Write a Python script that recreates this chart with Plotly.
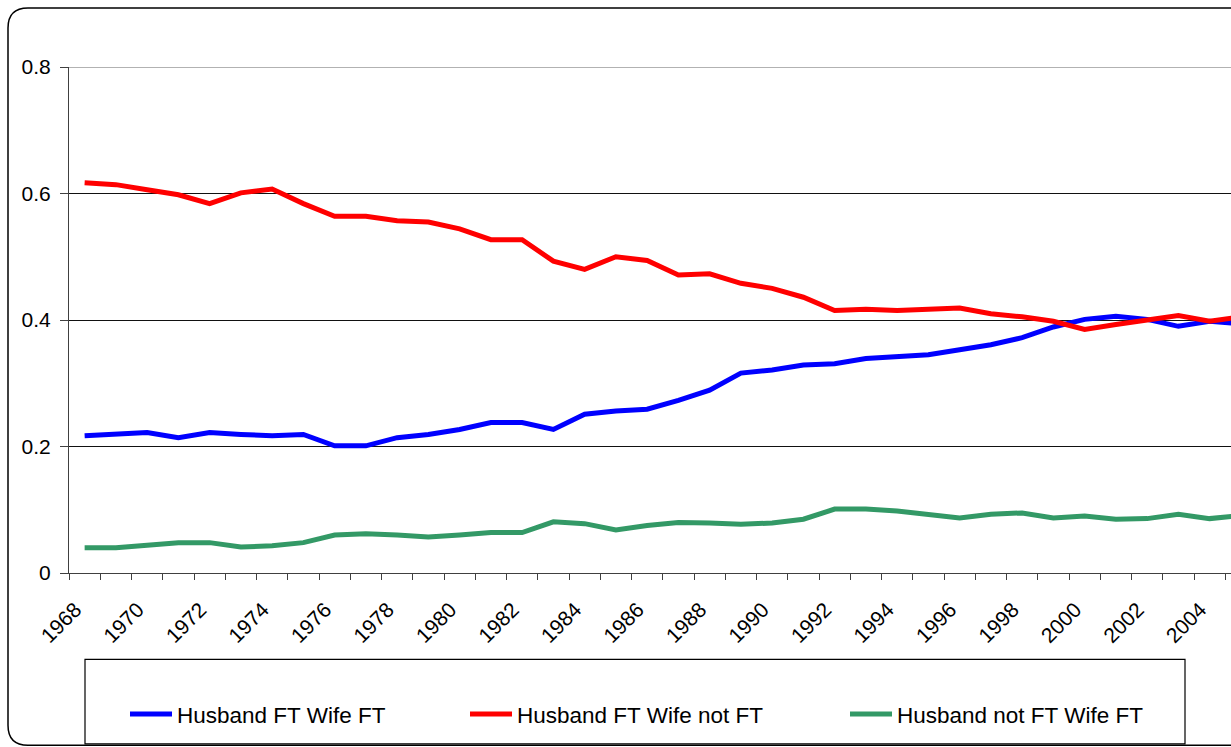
import plotly.graph_objects as go

years = list(range(1968, 2006))
ft_ft = [0.217, 0.219, 0.222, 0.214, 0.222, 0.219, 0.217, 0.219, 0.201, 0.201,
         0.214, 0.219, 0.227, 0.238, 0.238, 0.227, 0.251, 0.256, 0.259, 0.273,
         0.289, 0.316, 0.321, 0.329, 0.331, 0.339, 0.342, 0.345, 0.353, 0.361,
         0.372, 0.389, 0.401, 0.406, 0.401, 0.390, 0.398, 0.394]
ft_notft = [0.617, 0.614, 0.606, 0.598, 0.584, 0.601, 0.607, 0.584, 0.564, 0.564,
            0.557, 0.555, 0.544, 0.527, 0.527, 0.493, 0.480, 0.500, 0.494, 0.471,
            0.473, 0.458, 0.450, 0.436, 0.415, 0.417, 0.415, 0.418, 0.419, 0.410,
            0.405, 0.398, 0.385, 0.393, 0.401, 0.407, 0.398, 0.405]
notft_ft = [0.040, 0.040, 0.044, 0.048, 0.048, 0.041, 0.043, 0.048, 0.060, 0.062,
            0.060, 0.057, 0.060, 0.064, 0.064, 0.081, 0.078, 0.068, 0.075, 0.080,
            0.079, 0.077, 0.079, 0.085, 0.101, 0.101, 0.098, 0.093, 0.087, 0.093,
            0.095, 0.087, 0.090, 0.085, 0.086, 0.093, 0.086, 0.091]
names = ["Husband FT Wife FT", "Husband FT Wife not FT", "Husband not FT Wife FT"]
colors = ["#0000FF", "#FF0000", "#339966"]
tick_years = list(range(1968, 2005, 2))
y_ticks = [0, 0.2, 0.4, 0.6, 0.8]
y_text = ["0", "0.2", "0.4", "0.6", "0.8"]

W, H = 1231, 747
L, T, B = 69, 67, 173.5
plot_w = W - L
plot_h = H - T - B
px_per_year = 31.25
label_shift = 0.3  # rotated labels end slightly left of the category centre


def px(xp):
    return (xp - L) / plot_w


def py(yp):
    return (H - B - yp) / plot_h


FONT = "Liberation Sans, Arial, sans-serif"

fig = go.Figure()
series = [ft_ft, ft_notft, notft_ft]
legends = ["legend", "legend2", "legend3"]
for name, vals, col, lg in zip(names, series, colors, legends):
    fig.add_trace(go.Scatter(x=years, y=vals, mode="lines", name=name,
                             line=dict(color=col, width=5), legend=lg,
                             showlegend=True))

x0 = 1967.5
fig.update_xaxes(
    range=[x0, x0 + plot_w / px_per_year],
    tickmode="array", tickvals=[y - label_shift for y in tick_years],
    ticktext=[str(y) for y in tick_years],
    tickangle=-45, ticks="", showgrid=False, zeroline=False,
    showline=True, linecolor="#404040", linewidth=1,
    tickfont=dict(family=FONT, size=21, color="black"),
    ticklabelstandoff=15,
    minor=dict(tickmode="array", tickvals=[x0 + i for i in range(0, 45)],
               ticks="outside", ticklen=6, tickcolor="#404040", showgrid=False),
)
fig.update_yaxes(
    range=[0, 0.8], tickmode="array", tickvals=y_ticks, ticktext=y_text,
    showgrid=True, gridcolor="#111111", gridwidth=1, zeroline=False,
    showline=True, linecolor="#404040", linewidth=1,
    ticks="outside", ticklen=8, tickcolor="#404040",
    tickfont=dict(family=FONT, size=21, color="black"),
    ticklabelstandoff=5,
)

leg_common = dict(orientation="h", xanchor="left", yanchor="middle",
                  bgcolor="rgba(0,0,0,0)", borderwidth=0, itemwidth=42,
                  font=dict(family=FONT, size=22.5, color="black"))
fig.update_layout(
    width=W, height=H, showlegend=True,
    margin=dict(l=L, r=0, t=T, b=B),
    paper_bgcolor="white", plot_bgcolor="white",
    legend=dict(x=px(125), y=py(715), **leg_common),
    legend2=dict(x=px(465), y=py(715), **leg_common),
    legend3=dict(x=px(845), y=py(715), **leg_common),
)

# gray top border of plot area
fig.add_shape(type="line", xref="paper", yref="y", x0=0, x1=1.05, y0=0.8, y1=0.8,
              line=dict(color="#999999", width=1.5), layer="above")
# legend box
fig.add_shape(type="rect", xref="paper", yref="paper",
              x0=px(85), x1=px(1185), y0=py(660), y1=py(744.5),
              line=dict(color="black", width=1.2))
# outer rounded chart border
r = 20
path = (f"M {px(1300)},{py(8)} L {px(8 + r)},{py(8)} "
        f"Q {px(8)},{py(8)} {px(8)},{py(8 + r)} "
        f"L {px(8)},{py(746 - r)} Q {px(8)},{py(746)} {px(8 + r)},{py(746)} "
        f"L {px(1300)},{py(746)}")
fig.add_shape(type="path", xref="paper", yref="paper", path=path,
              line=dict(color="black", width=1.5))

fig.write_html("out.html", config={"displayModeBar": False},
               post_script="document.body.style.margin='0';"
                           "document.body.style.overflow='hidden';")
